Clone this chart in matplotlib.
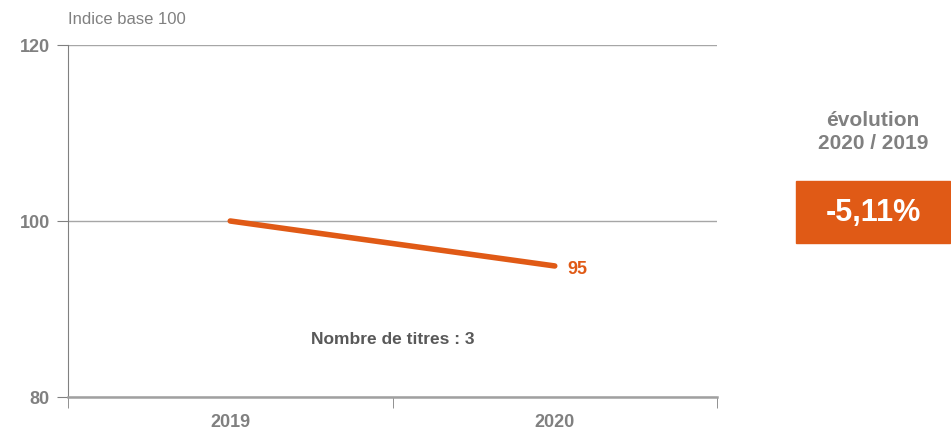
import matplotlib.pyplot as plt
from matplotlib.patches import Rectangle

# Data
years = ['2019', '2020']
indice = [100, 94.89]
evolution = '-5,11%'
nb_titres = 3

orange = '#E05A16'
grey = '#808080'

plt.rcParams['font.family'] = ['Liberation Sans', 'DejaVu Sans']

fig = plt.figure(figsize=(9.51, 4.32), dpi=100)
ax = fig.add_axes([68 / 951, 1 - 397 / 432, 649 / 951, 352 / 432])

x = list(range(len(years)))
ax.plot(x, indice, color=orange, lw=4, solid_capstyle='round')
ax.text(x[-1] + 0.04, indice[-1] - 0.4, f'{indice[-1]:.0f}', color=orange,
        fontsize=13, fontweight='bold', va='center', ha='left')

ax.set_xlim(-0.5, len(years) - 0.5)
ax.set_ylim(80, 120)
ax.set_yticks([80, 100, 120])
ax.set_xticks(x)
ax.set_xticklabels(years)
ax.set_xticks([-0.5, 0.5, 1.5], minor=True)
ax.tick_params(axis='x', which='major', length=0, pad=12, labelsize=13,
               labelcolor=grey)
ax.tick_params(axis='x', which='minor', length=8, color=grey, direction='out')
ax.tick_params(axis='y', length=8, color=grey, labelsize=13, labelcolor=grey, pad=5)
for lab in ax.get_xticklabels() + ax.get_yticklabels():
    lab.set_fontweight('bold')

ax.grid(axis='y', color='#A6A6A6', lw=1)
ax.set_axisbelow(True)
for s in ['top', 'right']:
    ax.spines[s].set_visible(False)
ax.spines['left'].set_color(grey)
ax.spines['bottom'].set_color('#A0A0A0')
ax.spines['bottom'].set_linewidth(1.8)

ax.text(0.5, 86.5, f'Nombre de titres : {nb_titres}', color='#595959',
        fontsize=12.5, fontweight='bold', ha='center', va='center')

fig.text(68 / 951, 1 - 20 / 432, 'Indice base 100', color=grey, fontsize=12,
         ha='left', va='center')

fig.text(873 / 951, 1 - 132 / 432, f'évolution\n{years[1]} / {years[0]}',
         color=grey, fontsize=15, fontweight='bold', ha='center', va='center',
         linespacing=1.3)
fig.patches.append(Rectangle((796 / 951, 1 - 243 / 432), 154 / 951, 62 / 432,
                             transform=fig.transFigure, color=orange))
fig.text(873 / 951, 1 - 213 / 432, evolution, color='white', fontsize=22,
         fontweight='bold', ha='center', va='center')

fig.savefig('out.png', dpi=100)
